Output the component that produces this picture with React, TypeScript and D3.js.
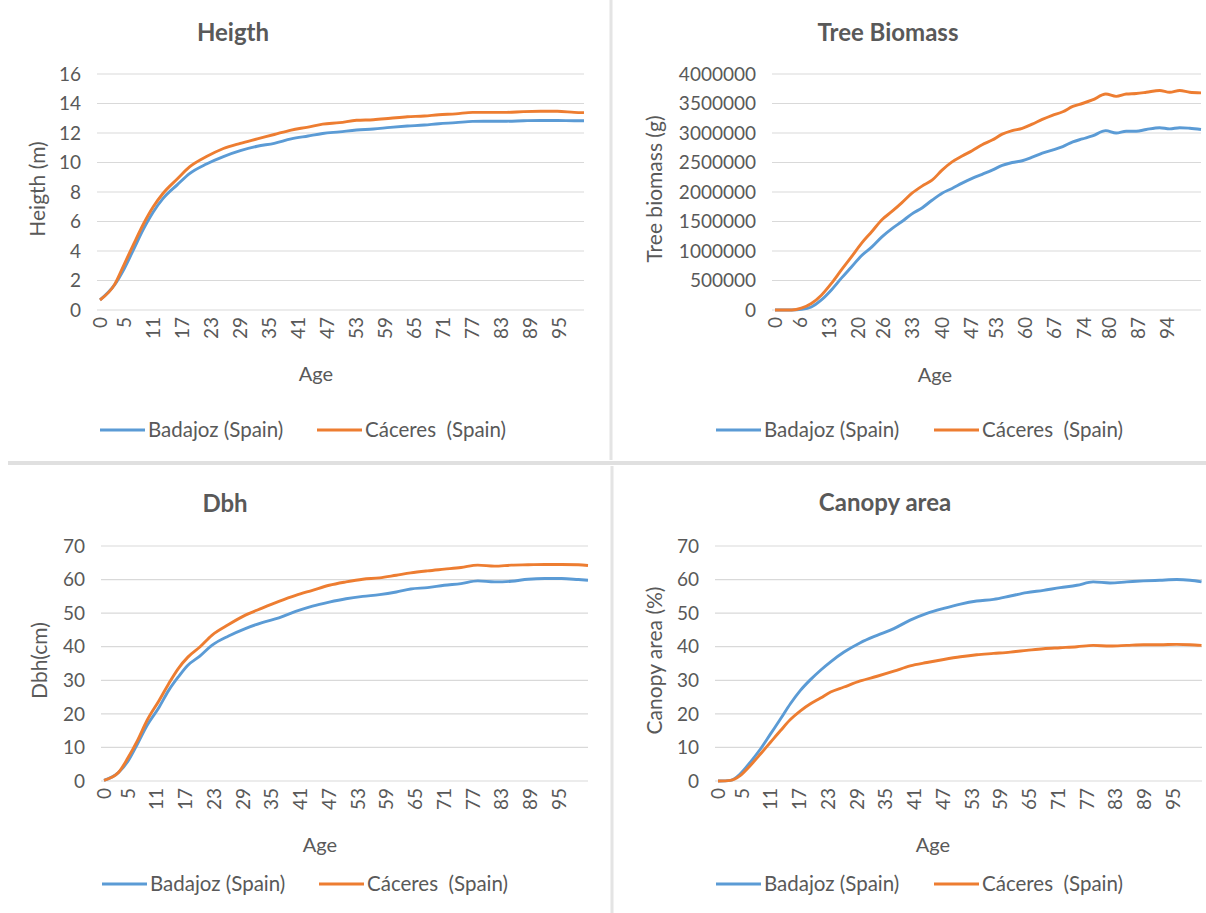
import React from "react";
import * as d3 from "d3";

// ---------- DATA ----------
const seriesNames = ["Badajoz (Spain)", "Cáceres  (Spain)"];

const heightAges = [0, 3, 5, 7, 9, 11, 13, 16, 18.5, 22, 25.5, 29, 32.5, 36, 39.5, 43, 46, 49.5, 53, 56.5, 60, 63.5, 67, 70, 73.5, 77, 80.5, 84, 87.5, 91, 94.5, 98, 100];
const heightBadajoz = [0.68, 1.7, 2.8, 4.15, 5.5, 6.65, 7.55, 8.5, 9.25, 9.9, 10.4, 10.8, 11.1, 11.3, 11.6, 11.8, 11.97, 12.08, 12.2, 12.27, 12.38, 12.47, 12.54, 12.63, 12.7, 12.79, 12.8, 12.8, 12.83, 12.85, 12.85, 12.83, 12.83];
const heightCaceres = [0.68, 1.72, 3.1, 4.5, 5.85, 7.0, 7.9, 8.9, 9.7, 10.4, 10.95, 11.3, 11.6, 11.9, 12.2, 12.4, 12.6, 12.7, 12.86, 12.9, 13.0, 13.1, 13.15, 13.24, 13.3, 13.4, 13.4, 13.4, 13.45, 13.47, 13.47, 13.4, 13.38];
const heightYTicks = [0, 2, 4, 6, 8, 10, 12, 14, 16];
const heightXTicks = [0, 5, 11, 17, 23, 29, 35, 41, 47, 53, 59, 65, 71, 77, 83, 89, 95];

const biomassAges = [0, 4, 6.3, 8.7, 11.1, 13.5, 15.9, 18.3, 20.7, 23.2, 25.6, 28, 30.4, 32.8, 35.2, 37.6, 40, 42.4, 44.8, 47.2, 49.6, 52, 54.4, 56.8, 59.2, 61.6, 64, 66.4, 68.9, 71.3, 73.6, 76, 79.2, 81.7, 84.1, 86.5, 88.9, 92.1, 94.5, 96.9, 99.3, 102];
const biomassBadajozM = [0, 0, 0.01, 0.05, 0.17, 0.34, 0.54, 0.73, 0.92, 1.07, 1.24, 1.38, 1.5, 1.63, 1.73, 1.86, 1.98, 2.06, 2.15, 2.23, 2.3, 2.37, 2.45, 2.5, 2.53, 2.59, 2.66, 2.71, 2.77, 2.85, 2.9, 2.95, 3.04, 3.0, 3.03, 3.03, 3.06, 3.09, 3.07, 3.09, 3.08, 3.06];
const biomassCaceresM = [0, 0, 0.03, 0.11, 0.25, 0.45, 0.68, 0.9, 1.13, 1.33, 1.53, 1.67, 1.82, 1.98, 2.1, 2.2, 2.37, 2.51, 2.61, 2.7, 2.8, 2.88, 2.98, 3.04, 3.08, 3.15, 3.23, 3.3, 3.36, 3.45, 3.5, 3.56, 3.66, 3.62, 3.66, 3.67, 3.69, 3.72, 3.69, 3.72, 3.69, 3.68];
const biomassYTicks = [0, 500000, 1000000, 1500000, 2000000, 2500000, 3000000, 3500000, 4000000];
const biomassXTicks = [0, 6, 13, 20, 26, 33, 40, 47, 53, 60, 67, 74, 80, 87, 94];

const dbhAges = [0, 3, 5, 7, 9, 11.5, 13.5, 15.5, 17.5, 20, 22.5, 26, 29.5, 33, 36.5, 40, 43.5, 47, 50.5, 54, 57.5, 61, 64, 67.5, 71, 74.5, 78, 81.5, 85, 88.5, 92, 95.5, 99, 101];
const dbhBadajoz = [0.2, 2.5, 5.9, 11.1, 16.6, 22, 27, 31, 34.5, 37.2, 40.4, 43.2, 45.4, 47.2, 48.6, 50.5, 52.1, 53.3, 54.3, 55, 55.5, 56.3, 57.2, 57.6, 58.3, 58.8, 59.6, 59.3, 59.5, 60.1, 60.3, 60.3, 60, 59.8];
const dbhCaceres = [0.2, 2.5, 6.9, 12.1, 18.1, 24, 29, 33.5, 36.9, 39.9, 43.4, 46.6, 49.4, 51.5, 53.5, 55.3, 56.8, 58.3, 59.3, 60.1, 60.5, 61.3, 62, 62.6, 63.1, 63.6, 64.3, 64, 64.3, 64.4, 64.5, 64.5, 64.4, 64.2];
const pctYTicks = [0, 10, 20, 30, 40, 50, 60, 70];
const dbhXTicks = [0, 5, 11, 17, 23, 29, 35, 41, 47, 53, 59, 65, 71, 77, 83, 89, 95];

const canopyAges = [0, 2.6, 4.7, 6.8, 8.9, 11, 13.1, 15.1, 17.2, 19.3, 21.4, 23.5, 26.3, 29.7, 33.2, 36.7, 40.1, 43.6, 47.1, 50.6, 54, 57.5, 61, 64.4, 67.9, 71.4, 74.9, 78.3, 81.8, 85.3, 88.8, 92.2, 95.7, 98.5, 100.9];
const canopyBadajoz = [0, 0.2, 2.2, 5.7, 9.6, 14.1, 18.6, 23, 27, 30.2, 33, 35.5, 38.4, 41.2, 43.4, 45.4, 47.9, 49.9, 51.4, 52.7, 53.6, 54.1, 55.1, 56.1, 56.8, 57.6, 58.3, 59.3, 59, 59.3, 59.6, 59.8, 60, 59.8, 59.3];
const canopyCaceres = [0, 0.2, 1.7, 4.7, 8.1, 11.6, 15.1, 18.3, 20.9, 23, 24.7, 26.5, 28, 29.8, 31.2, 32.7, 34.3, 35.3, 36.2, 37, 37.6, 38, 38.4, 38.9, 39.4, 39.7, 40, 40.4, 40.2, 40.4, 40.6, 40.6, 40.7, 40.6, 40.4];
const canopyXTicks = [0, 5, 11, 17, 23, 29, 35, 41, 47, 53, 59, 65, 71, 77, 83, 89, 95];

// ---------- STYLE ----------
const BLUE = "#5B9BD5";
const ORANGE = "#ED7D31";
const TEXT = "#595959";
const GRID = "#D9D9D9";
const FONT = "Lato, 'Open Sans', sans-serif";

type PanelCfg = {
  title: string;
  titleX: number;
  titleY: number;
  yLabel: string;
  yLabelX: number;
  ages: number[];
  a: number[];
  b: number[];
  yTicks: number[];
  xTicks: number[];
  xMax: number;
  x0: number;
  x1: number;
  yTop: number;
  yBottom: number;
  ageX: number;
  ageY: number;
  legendY: number;
  legendX: number;
  legendX2: number;
};

function Panel({ c }: { c: PanelCfg }) {
  const x = d3.scaleLinear().domain([0, c.xMax]).range([c.x0, c.x1]);
  const yMax = c.yTicks[c.yTicks.length - 1];
  const y = d3.scaleLinear().domain([0, yMax]).range([c.yBottom, c.yTop]);
  const line = d3
    .line<[number, number]>()
    .x((d) => x(d[0]))
    .y((d) => y(d[1]))
    .curve(d3.curveMonotoneX);
  const pa = line(c.ages.map((t, i) => [t, c.a[i]] as [number, number])) || "";
  const pb = line(c.ages.map((t, i) => [t, c.b[i]] as [number, number])) || "";
  const yMid = (c.yTop + c.yBottom) / 2 - 3;
  return (
    <g fontFamily={FONT} fill={TEXT}>
      <text x={c.titleX} y={c.titleY} textAnchor="middle" fontSize={24} fontWeight="bold" fill={TEXT}>
        {c.title}
      </text>
      {c.yTicks.map((t) => (
        <g key={"g" + t}>
          <line x1={c.x0 - 3} x2={c.x1} y1={y(t)} y2={y(t)} stroke={GRID} strokeWidth={1.2} />
          <text x={c.x0 - 19} y={y(t)} dy="0.35em" textAnchor="end" fontSize={19}>
            {String(t)}
          </text>
        </g>
      ))}
      {c.xTicks.map((t) => (
        <text
          key={"x" + t}
          x={x(t)}
          y={c.yBottom + 7}
          transform={`rotate(-90, ${x(t)}, ${c.yBottom + 7})`}
          textAnchor="end"
          dy="0.35em"
          fontSize={19}
        >
          {String(t)}
        </text>
      ))}
      <text
        x={c.yLabelX}
        y={yMid}
        transform={`rotate(-90, ${c.yLabelX}, ${yMid})`}
        textAnchor="middle"
        dy="0.35em"
        fontSize={21}
      >
        {c.yLabel}
      </text>
      <text x={c.ageX} y={c.ageY} textAnchor="middle" dy="0.35em" fontSize={20}>
        Age
      </text>
      <path d={pa} fill="none" stroke={BLUE} strokeWidth={2.9} strokeLinejoin="round" />
      <path d={pb} fill="none" stroke={ORANGE} strokeWidth={2.9} strokeLinejoin="round" />
      <line x1={c.legendX} x2={c.legendX + 45} y1={c.legendY} y2={c.legendY} stroke={BLUE} strokeWidth={2.9} />
      <text x={c.legendX + 48} y={c.legendY} dy="0.35em" fontSize={20.5}>
        {seriesNames[0]}
      </text>
      <line x1={c.legendX2} x2={c.legendX2 + 45} y1={c.legendY} y2={c.legendY} stroke={ORANGE} strokeWidth={2.9} />
      <text x={c.legendX2 + 48} y={c.legendY} dy="0.35em" fontSize={20.5} style={{ whiteSpace: "pre" }}>
        {seriesNames[1]}
      </text>
    </g>
  );
}

const panels: PanelCfg[] = [
  {
    title: "Heigth", titleX: 233, titleY: 41, yLabel: "Heigth (m)", yLabelX: 38,
    ages: heightAges, a: heightBadajoz, b: heightCaceres, yTicks: heightYTicks, xTicks: heightXTicks,
    xMax: 100, x0: 100, x1: 584, yTop: 74, yBottom: 310, ageX: 316, ageY: 374, legendY: 430, legendX: 100, legendX2: 317,
  },
  {
    title: "Tree Biomass", titleX: 888, titleY: 41, yLabel: "Tree biomass (g)", yLabelX: 655,
    ages: biomassAges, a: biomassBadajozM.map((v) => v * 1000000), b: biomassCaceresM.map((v) => v * 1000000),
    yTicks: biomassYTicks, xTicks: biomassXTicks,
    xMax: 102, x0: 775, x1: 1201, yTop: 74, yBottom: 310, ageX: 935, ageY: 375, legendY: 430, legendX: 716, legendX2: 934,
  },
  {
    title: "Dbh", titleX: 225, titleY: 512, yLabel: "Dbh(cm)", yLabelX: 40,
    ages: dbhAges, a: dbhBadajoz, b: dbhCaceres, yTicks: pctYTicks, xTicks: dbhXTicks,
    xMax: 101, x0: 104, x1: 588, yTop: 546, yBottom: 781, ageX: 320, ageY: 845, legendY: 884, legendX: 102, legendX2: 319,
  },
  {
    title: "Canopy area", titleX: 885, titleY: 511, yLabel: "Canopy area (%)", yLabelX: 655,
    ages: canopyAges, a: canopyBadajoz, b: canopyCaceres, yTicks: pctYTicks, xTicks: canopyXTicks,
    xMax: 101, x0: 718, x1: 1202, yTop: 546, yBottom: 781, ageX: 933, ageY: 845, legendY: 884, legendX: 716, legendX2: 934,
  },
];

export default function App() {
  return (
    <svg
      width={1206}
      height={913}
      viewBox="0 0 1206 913"
      style={{ position: "absolute", left: 0, top: 0, background: "#fff" }}
    >
      <rect x={0} y={0} width={1206} height={913} fill="#fff" />
      <line x1={611} x2={611} y1={0} y2={460} stroke="#E4E4E4" strokeWidth={3} />
      <line x1={612} x2={612} y1={466} y2={913} stroke="#E4E4E4" strokeWidth={3} />
      <line x1={8} x2={1206} y1={463} y2={463} stroke="#E0E0E0" strokeWidth={4} />
      {panels.map((p) => (
        <Panel key={p.title} c={p} />
      ))}
    </svg>
  );
}
